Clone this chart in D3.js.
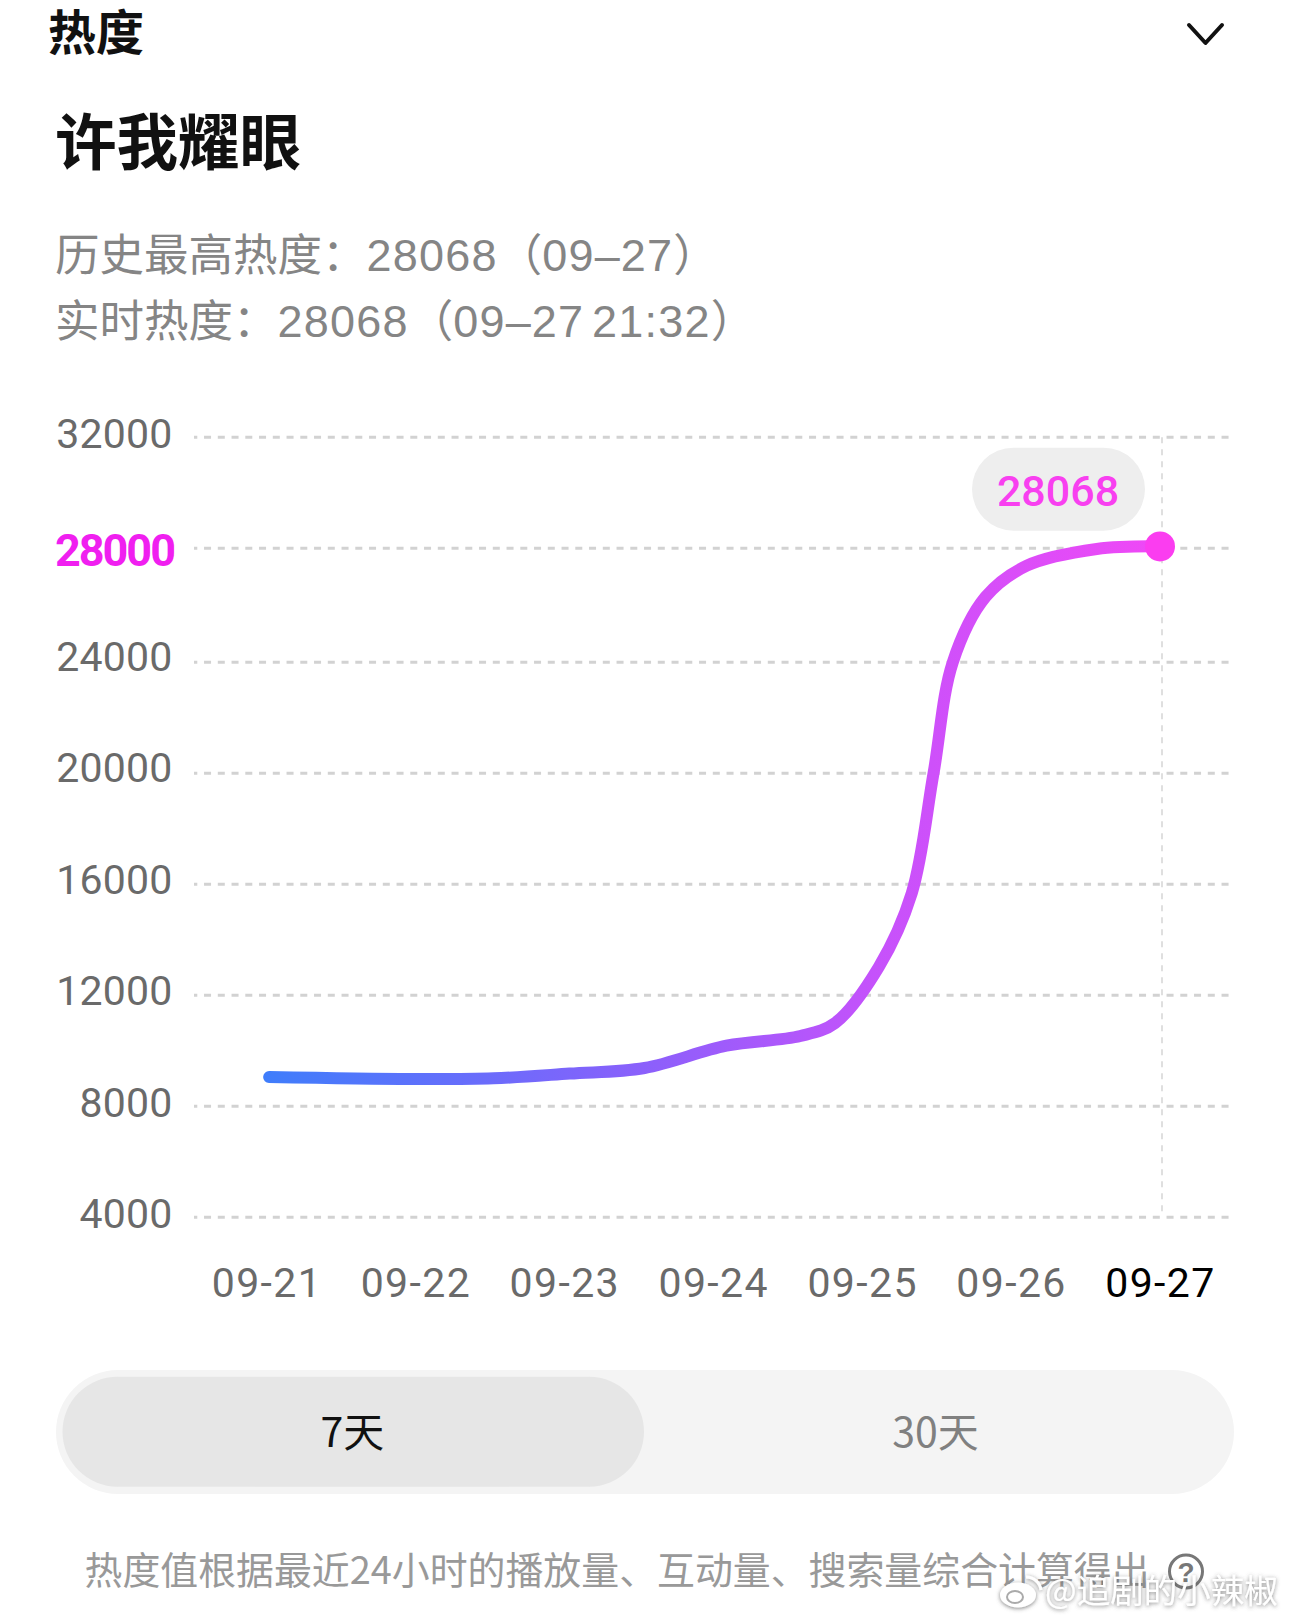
<!DOCTYPE html>
<html><head><meta charset="utf-8">
<script src="https://cdn.jsdelivr.net/npm/d3@7/dist/d3.min.js"></script>
<style>html,body{margin:0;padding:0;background:#fff}svg{display:block}</style>
</head><body><svg id="c" width="1290" height="1623"></svg>
<script>
const dayLabels = ["09-21","09-22","09-23","09-24","09-25","09-26","09-27"];
const yTicks = [32000,28000,24000,20000,16000,12000,8000,4000];
const highlightTick = 28000;
// day offset from 09-21 at each read-off point
const days = [0.025,0.979,1.531,2.04,2.543,3.092,3.588,3.82,4.115,4.335,4.481,4.61,4.831,5.107,5.576,6];
const heat = [9056,8984,9009,9180,9380,10184,10533,11000,13030,15676,20000,24000,26302,27390,27975,28068];
const peakValue = 28068;
const peakDay = 6;
const headText = "热度", titleText = "许我耀眼";
const line1 = [["历史最高热度：",0],["28068",1],["（",0],["09–27",1],["）",0]];
const line2 = [["实时热度：",0],["28068",1],["（",0],["09–27 21:32",1],["）",0]];
const footText = "热度值根据最近24小时的播放量、互动量、搜索量综合计算得出";
const wmText = "@追剧的小辣椒";
const cjk = "'Noto Sans CJK SC','Noto Sans',sans-serif";
const num = "Roboto,'Noto Sans',sans-serif";
const lat = "'Liberation Sans',Arial,sans-serif";

const svg = d3.select("#c");
const y = d3.scaleLinear().domain([4000,24000,28000,32000]).range([1217.3,662.3,548.3,437.3]);
const yLab = d3.scaleLinear().domain([4000,32000]).range([1228,448]);
const x = d3.scaleLinear().domain([0,6]).range([265.4,1160]);
const gridL=194, gridR=1230;

const defs = svg.append("defs");
const g = defs.append("linearGradient").attr("id","lg").attr("gradientUnits","userSpaceOnUse")
 .attr("x1",x(0)).attr("x2",x(6)).attr("y1",0).attr("y2",0);
[[0,"#3f7dfb"],[0.42,"#8a60fb"],[0.68,"#c552fb"],[1,"#f048f6"]].forEach(s=>g.append("stop").attr("offset",s[0]).attr("stop-color",s[1]));
const f = defs.append("filter").attr("id","wmShadow").attr("x","-20%").attr("y","-30%").attr("width","140%").attr("height","160%");
f.append("feDropShadow").attr("dx",0).attr("dy",1).attr("stdDeviation",2).attr("flood-color","#555").attr("flood-opacity",0.75);

function txt(t,xx,yy,size,fill,opt={}){
 return svg.append("text").attr("x",xx).attr("y",yy).attr("font-size",size).attr("fill",fill)
  .attr("font-family",opt.f||cjk).attr("font-weight",opt.w||400).attr("text-anchor",opt.a||"start").text(t);
}
function mixed(runs,xx,yy){
 const t = svg.append("text").attr("x",xx).attr("y",yy).attr("fill","#858585").attr("font-size",44.5).attr("font-family",cjk);
 t.selectAll("tspan").data(runs).join("tspan")
  .attr("font-family",d=>d[1]?lat:cjk).attr("font-size",d=>d[1]?45:44.5).attr("letter-spacing",d=>d[1]?1.2:0)
  .attr("word-spacing",d=>d[1]?-6:0).text(d=>d[0]);
}
txt(headText,48,50,48,"#111",{w:700});
svg.append("path").attr("d",d3.line()([[1189,25],[1205.5,43],[1222,25]])).attr("fill","none").attr("stroke","#111").attr("stroke-width",4).attr("stroke-linecap","round").attr("stroke-linejoin","round");
txt(titleText,55,165,61.5,"#111",{w:700});
mixed(line1,55,271);
mixed(line2,55,337);

// grid
svg.append("g").selectAll("line").data(yTicks).join("line")
 .attr("x1",gridL).attr("x2",gridR).attr("y1",d=>y(d)).attr("y2",d=>y(d))
 .attr("stroke","#d2d2d2").attr("stroke-width",3).attr("stroke-dasharray","7 6.75").attr("stroke-dashoffset",3.7);
svg.append("line").attr("x1",1162).attr("x2",1162).attr("y1",y(32000)).attr("y2",y(4000))
 .attr("stroke","#d8d8d8").attr("stroke-width",1.6).attr("stroke-dasharray","6 6");

// y tick labels
svg.append("g").selectAll("text").data(yTicks).join("text")
 .attr("x",d=>d===highlightTick?174:172.5).attr("y",d=>d===highlightTick?566:yLab(d))
 .attr("text-anchor","end").attr("font-family",num)
 .attr("font-size",d=>d===highlightTick?45:41).attr("font-weight",d=>d===highlightTick?700:400)
 .attr("letter-spacing",d=>d===highlightTick?-2:0.2)
 .attr("fill",d=>d===highlightTick?"#f01ff0":"#6a6a6a").text(d=>d);

// x labels
const xl = d3.scaleLinear().domain([0,6]).range([267,1160.5]);
svg.append("g").selectAll("text").data(dayLabels).join("text")
 .attr("x",(d,i)=>xl(i)).attr("y",1297).attr("text-anchor","middle").attr("font-family",num)
 .attr("font-size",41).attr("font-weight",400).attr("fill",d=>d==="09-27"?"#000":"#6a6a6a")
 .attr("letter-spacing",1.4).text(d=>d);

// line
const pts = days.map((d,i)=>[d,heat[i]]);
const line = d3.line().x(d=>x(d[0])).y(d=>y(d[1])).curve(d3.curveCatmullRom.alpha(0.5));
svg.append("path").datum(pts).attr("d",line).attr("fill","none").attr("stroke","url(#lg)").attr("stroke-width",12).attr("stroke-linecap","round");
svg.append("circle").attr("cx",x(peakDay)).attr("cy",y(peakValue)).attr("r",15).attr("fill","#fb3df0");

// tooltip
svg.append("rect").attr("x",972).attr("y",447.7).attr("width",173).attr("height",83).attr("rx",41.5).attr("fill","#eeeeee");
txt(peakValue,1058,506,43,"#f840f0",{f:num,w:500,a:"middle"});

// toggle
svg.append("rect").attr("x",56).attr("y",1370).attr("width",1178).attr("height",124).attr("rx",62).attr("fill","#f4f4f4");
svg.append("rect").attr("x",62.5).attr("y",1376.7).attr("width",581.5).attr("height",110).attr("rx",55).attr("fill","#e6e6e6");
txt("7天",352.5,1447,41,"#111",{a:"middle"});
txt("30天",935.5,1447,41,"#808080",{a:"middle"});

// footer
txt(footText,84.5,1584,37.9,"#999");
svg.append("circle").attr("cx",1186).attr("cy",1571.5).attr("r",16.5).attr("fill","none").attr("stroke","#777").attr("stroke-width",3);
txt("?",1186,1582,28,"#777",{a:"middle",f:lat,w:700});

// watermark
const wm = svg.append("g").attr("filter","url(#wmShadow)");
wm.append("ellipse").attr("cx",1018).attr("cy",1595).attr("rx",18).attr("ry",12.5).attr("fill","#fff");
wm.append("ellipse").attr("cx",1015).attr("cy",1597).attr("rx",8).attr("ry",6).attr("fill","none").attr("stroke","#aaa").attr("stroke-width",2);
wm.append("path").attr("d","M1026 1577a15 15 0 0 1 15 13").attr("fill","none").attr("stroke","#fff").attr("stroke-width",3);
wm.append("text").attr("x",1045).attr("y",1603).attr("font-size",33.5).attr("font-family",cjk).attr("fill","#fff").text(wmText);
</script></body></html>
